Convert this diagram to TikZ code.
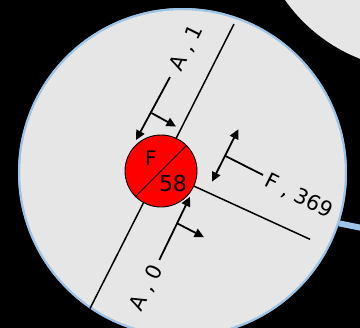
\documentclass[tikz,border=0pt]{standalone}
\usepackage{fontspec}
\setmainfont{DejaVu Sans}
\usetikzlibrary{arrows.meta}
\definecolor{cfill}{HTML}{E6E6E6}
\definecolor{cblue}{HTML}{9DC3E6}
\begin{document}
\begin{tikzpicture}[x=1bp,y=-1bp,
  lbl/.style={font=\fontsize{21bp}{24bp}\selectfont, inner sep=0pt},
  mk/.style={line width=1.8bp, -{Triangle[length=9.5bp,width=9bp]}},
  mkk/.style={line width=1.8bp, {Triangle[length=9.5bp,width=9bp]}-{Triangle[length=9.5bp,width=9bp]}},
  stem/.style={line width=1.8bp},
  ln/.style={line width=1.5bp}]
\fill[black] (0,0) rectangle (360,328);
\useasboundingbox (0,0) rectangle (360,328);
\clip (0,0) rectangle (360,328);
% neighbouring circle
\node[circle, fill=cfill, minimum size=330bp, inner sep=0pt] (other) at (420,-95) {};
% main circle
\node[circle, draw=cblue, line width=2bp, fill=cfill, minimum size=327bp, inner sep=0pt] (main) at (182.5,172.5) {};
\coordinate (linkend) at (375,230.6);
\draw[cblue, line width=6bp] (main.-18.4) -- (linkend);
\draw[cblue, line width=2bp] (main.center) circle[radius=163.5bp];
% axes
\coordinate (rc) at (161,171);
\coordinate (a1) at (234,24);
\coordinate (a0) at (90,308.5);
\coordinate (fe) at (310,239.3);
\draw[ln] (a1) -- (a0);
\draw[ln] (rc) -- (fe);
% red node
\node[circle, draw=black, line width=0.9bp, fill=red, minimum size=72bp, inner sep=0pt] (red) at (rc) {};
\draw[line width=0.9bp] (red.-135) -- (red.45);
\node[font=\fontsize{20bp}{22bp}\selectfont, inner sep=0pt] (tf) at (151,158) {F};
\node[font=\fontsize{22bp}{24bp}\selectfont, inner sep=0pt] (t58) at (173,183.3) {58};
% marker A,1
\coordinate (m1s) at (170,77);
\coordinate (m1e) at (136,140);
\coordinate (m1j) at (151.5,113);
\coordinate (m1p) at (176,126.5);
\draw[mk] (m1s) -- (m1e);
\draw[mk] (m1j) -- (m1p);
% marker A,0
\coordinate (m0s) at (159.3,260);
\coordinate (m0e) at (190,196.7);
\coordinate (m0j) at (177.5,223.5);
\coordinate (m0p) at (204,237.3);
\draw[mk] (m0s) -- (m0e);
\draw[mk] (m0j) -- (m0p);
% marker F,369
\coordinate (mfs) at (263,175);
\coordinate (mfj) at (225.5,156);
\coordinate (mfa) at (238.3,129.3);
\coordinate (mfb) at (212,181.7);
\draw[stem] (mfs) -- (mfj);
\draw[mkk] (mfa) -- (mfb);
% labels
\node[lbl, rotate=63.4] (la1) at (186.7,48.5) {A , 1};
\node[lbl, rotate=63.4] (la0) at (146.7,288.3) {A , 0};
\node[lbl, rotate=-26.6] (lf) at (299,196) {F , 369};
\end{tikzpicture}
\end{document}
